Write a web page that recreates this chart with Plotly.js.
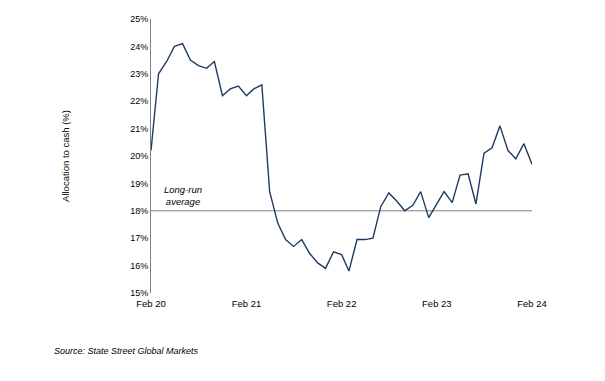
<!DOCTYPE html>
<html>
<head>
<meta charset="utf-8">
<script src="https://cdn.plot.ly/plotly-3.0.1.min.js"></script>
<style>html,body{margin:0;padding:0;background:#fff;}#chart{width:605px;height:381px;}</style>
</head>
<body>
<div id="chart"></div>
<script>
const months = [
  "2020-02-01","2020-03-01","2020-04-01","2020-05-01","2020-06-01","2020-07-01","2020-08-01","2020-09-01","2020-10-01","2020-11-01","2020-12-01",
  "2021-01-01","2021-02-01","2021-03-01","2021-04-01","2021-05-01","2021-06-01","2021-07-01","2021-08-01","2021-09-01","2021-10-01","2021-11-01","2021-12-01",
  "2022-01-01","2022-02-01","2022-03-01","2022-04-01","2022-05-01","2022-06-01","2022-07-01","2022-08-01","2022-09-01","2022-10-01","2022-11-01","2022-12-01",
  "2023-01-01","2023-02-01","2023-03-01","2023-04-01","2023-05-01","2023-06-01","2023-07-01","2023-08-01","2023-09-01","2023-10-01","2023-11-01","2023-12-01",
  "2024-01-01","2024-02-01"
];
const cashAllocation = [
  20.2, 23.0, 23.45, 24.0, 24.1, 23.5, 23.3, 23.2, 23.45, 22.2, 22.45,
  22.55, 22.2, 22.45, 22.6, 18.7, 17.55, 16.95, 16.7, 16.95, 16.45, 16.1, 15.9,
  16.5, 16.4, 15.8, 16.95, 16.95, 17.0, 18.15, 18.65, 18.35, 18.0, 18.2, 18.7,
  17.75, 18.25, 18.7, 18.3, 19.3, 19.35, 18.25, 20.1, 20.3, 21.1, 20.2, 19.9,
  20.45, 19.7
];
const longRunAverage = 18;
const xTickVals = ["2020-02-01","2021-02-01","2022-02-01","2023-02-01","2024-02-01"];
const xTickText = ["Feb 20","Feb 21","Feb 22","Feb 23","Feb 24"];
const yTickVals = [15,16,17,18,19,20,21,22,23,24,25];
const yTickText = yTickVals.map(v => v + "%");

const font = "Liberation Sans, Arial, sans-serif";

Plotly.newPlot("chart", [
  {
    x: [months[0], months[months.length - 1]],
    y: [longRunAverage, longRunAverage],
    mode: "lines",
    line: {color: "#808080", width: 1},
    hoverinfo: "skip"
  },
  {
    x: months,
    y: cashAllocation,
    mode: "lines",
    line: {color: "#1f3a64", width: 1.4}
  }
], {
  width: 605, height: 381,
  margin: {l: 151, r: 73, t: 19, b: 88},
  paper_bgcolor: "#fff", plot_bgcolor: "#fff",
  showlegend: false,
  font: {family: font, size: 9, color: "#000"},
  xaxis: {
    type: "date",
    range: [months[0], months[months.length - 1]],
    tickvals: xTickVals, ticktext: xTickText,
    showgrid: false, zeroline: false, showline: false,
    ticks: "", tickfont: {size: 9.5}, ticklabelstandoff: 3
  },
  yaxis: {
    range: [15, 25],
    tickvals: yTickVals, ticktext: yTickText,
    showgrid: false, zeroline: false,
    showline: true, linecolor: "#808080", linewidth: 1,
    ticks: "", tickfont: {size: 9},
    title: {text: "Allocation to cash (%)", font: {size: 9.5}, standoff: 58}
  },
  annotations: [
    {xref: "paper", yref: "y", x: 0.084, y: 18.55, xanchor: "center", yanchor: "middle",
     text: "<i>Long-run<br>average</i>",
     showarrow: false, font: {size: 9.5}, align: "center"},
    {xref: "paper", yref: "paper", x: -0.26, y: -0.21, xanchor: "left", yanchor: "middle",
     text: "<i>Source: State Street Global Markets</i>", showarrow: false, font: {size: 9}}
  ]
}, {staticPlot: true});
</script>
</body>
</html>
